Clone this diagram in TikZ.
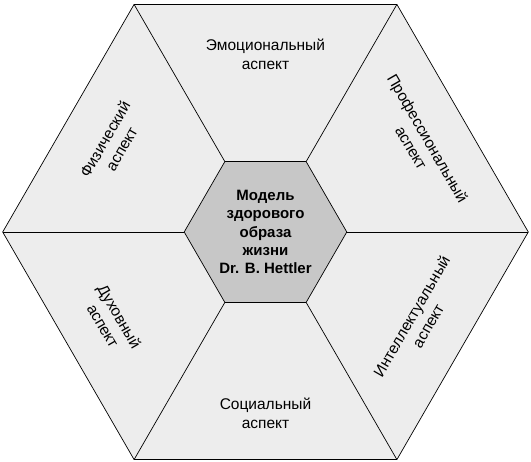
\documentclass[tikz,border=0pt]{standalone}
\usepackage{fontspec}
\setmainfont{Liberation Sans}
\usetikzlibrary{calc}

\begin{document}
\begin{tikzpicture}[
    x=1pt, y=1pt,
    sector/.style={draw=black, fill=black!7, line width=0.7pt, line join=round},
    core/.style={draw=black, fill=black!22, line width=0.7pt, line join=round},
    spoke/.style={draw=black, line width=0.7pt},
    aspect/.style={align=center, font=\fontsize{15.5}{19}\selectfont},
    modeltext/.style={align=center, font=\fontsize{15}{18.3}\selectfont\bfseries}
]
    \useasboundingbox (-265.5,-230) rectangle (265.5,232);
    \foreach \a in {0,60,...,300} {
        \coordinate (o\a) at (\a:262.8);
        \coordinate (i\a) at (\a:81.3);
    }
    \filldraw [sector] (o0) -- (o60) -- (o120) -- (o180) -- (o240) -- (o300) -- cycle;
    \foreach \a in {0,60,...,300}
        \draw [spoke] (i\a) -- (o\a);
    \filldraw [core] (i0) -- (i60) -- (i120) -- (i180) -- (i240) -- (i300) -- cycle;

    \node [modeltext] (model) at (0,0) {Модель\\здорового\\образа\\жизни\\Dr. B. Hettler};

    \node [aspect] (emo) at (90:178) {Эмоциональный\\аспект};
    \node [aspect, rotate=-60] (prof) at (30:178) {Профессиональный\\аспект};
    \node [aspect, rotate=60] (intel) at (-30:178) {Интеллектуальный\\аспект};
    \node [aspect] (soc) at (-90:181) {Социальный\\аспект};
    \node [aspect, rotate=-60] (spirit) at (-150:178) {Духовный\\аспект};
    \node [aspect, rotate=60] (phys) at (150:176) {Физический\\аспект};
\end{tikzpicture}
\end{document}
